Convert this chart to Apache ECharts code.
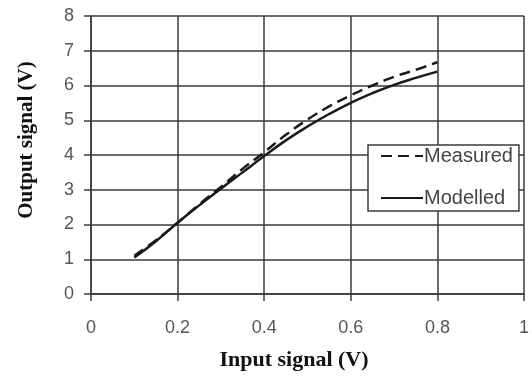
<!DOCTYPE html>
<html>
<head>
<meta charset="utf-8">
<script src="https://cdn.jsdelivr.net/npm/echarts@6/dist/echarts.min.js"></script>
<style>
  html, body { margin: 0; padding: 0; background: #fff; }
  #chart { width: 532px; height: 380px; }
</style>
</head>
<body>
<div id="chart"></div>
<script>
// input signal (V)
var inputV = [0.1, 0.15, 0.2, 0.25, 0.3, 0.35, 0.4, 0.45, 0.5, 0.55, 0.6, 0.65, 0.7, 0.75, 0.8];
// output signal (V)
var measured = [1.1, 1.55, 2.05, 2.58, 3.08, 3.6, 4.08, 4.58, 5.02, 5.4, 5.72, 6.0, 6.25, 6.45, 6.67];
var modelled = [1.05, 1.52, 2.05, 2.55, 3.03, 3.5, 3.97, 4.42, 4.82, 5.18, 5.5, 5.78, 6.02, 6.22, 6.4];

function pairs(xs, ys) {
  return xs.map(function (x, i) { return [x, ys[i]]; });
}

var gridColor = "#3a3a3a";
var labelStyle = { fontFamily: "Liberation Sans", fontSize: 18, color: "#555" };

var option = {
  animation: false,
  backgroundColor: "#fff",
  grid: { left: 91, right: 4, top: 16, bottom: 86 },
  xAxis: {
    type: "value",
    min: 0,
    max: 1,
    interval: 0.2,
    axisLine: { show: true, lineStyle: { color: gridColor, width: 1.5 } },
    axisTick: { show: true, length: 7, lineStyle: { color: gridColor, width: 1.5 } },
    splitLine: { show: true, lineStyle: { color: gridColor, width: 1.5 } },
    axisLabel: Object.assign({ margin: 25, showMinLabel: true, showMaxLabel: true }, labelStyle)
  },
  yAxis: {
    type: "value",
    min: 0,
    max: 8,
    interval: 1,
    axisLine: { show: true, lineStyle: { color: gridColor, width: 1.5 } },
    axisTick: { show: true, length: 7, lineStyle: { color: gridColor, width: 1.5 } },
    splitLine: { show: true, lineStyle: { color: gridColor, width: 1.5 } },
    axisLabel: Object.assign({ margin: 17 }, labelStyle)
  },
  legend: {
    orient: "vertical",
    left: 368,
    top: 145,
    padding: [1, 6, 3, 12],
    itemWidth: 42,
    itemHeight: 16,
    itemGap: 22,
    backgroundColor: "#fff",
    borderColor: gridColor,
    borderWidth: 1.5,
    itemStyle: { opacity: 0 },
    textStyle: { fontFamily: "Liberation Sans", fontSize: 20, color: "#444", padding: [0, 0, 0, -4] },
    data: ["Measured", "Modelled"]
  },
  graphic: [
    {
      type: "text",
      x: 294,
      y: 360,
      style: {
        text: "Input signal (V)",
        font: "bold 22px 'Liberation Serif'",
        fill: "#111",
        align: "center",
        verticalAlign: "middle"
      }
    },
    {
      type: "text",
      x: 27,
      y: 140,
      rotation: Math.PI / 2,
      style: {
        text: "Output signal (V)",
        font: "bold 21px 'Liberation Serif'",
        fill: "#111",
        align: "center",
        verticalAlign: "middle"
      }
    }
  ],
  series: [
    {
      name: "Measured",
      type: "line",
      data: pairs(inputV, measured),
      symbol: "none",
      smooth: true,
      z: 3,
      lineStyle: { color: "#1a1a1a", width: 2.5, type: [11, 6] },
      itemStyle: { color: "#1a1a1a" }
    },
    {
      name: "Modelled",
      type: "line",
      data: pairs(inputV, modelled),
      symbol: "none",
      smooth: true,
      z: 4,
      lineStyle: { color: "#1a1a1a", width: 2.5 },
      itemStyle: { color: "#1a1a1a" }
    }
  ]
};

var myChart = echarts.init(document.getElementById("chart"));
myChart.setOption(option);
window.addEventListener("resize", function () {
  myChart.resize();
});
</script>
</body>
</html>
